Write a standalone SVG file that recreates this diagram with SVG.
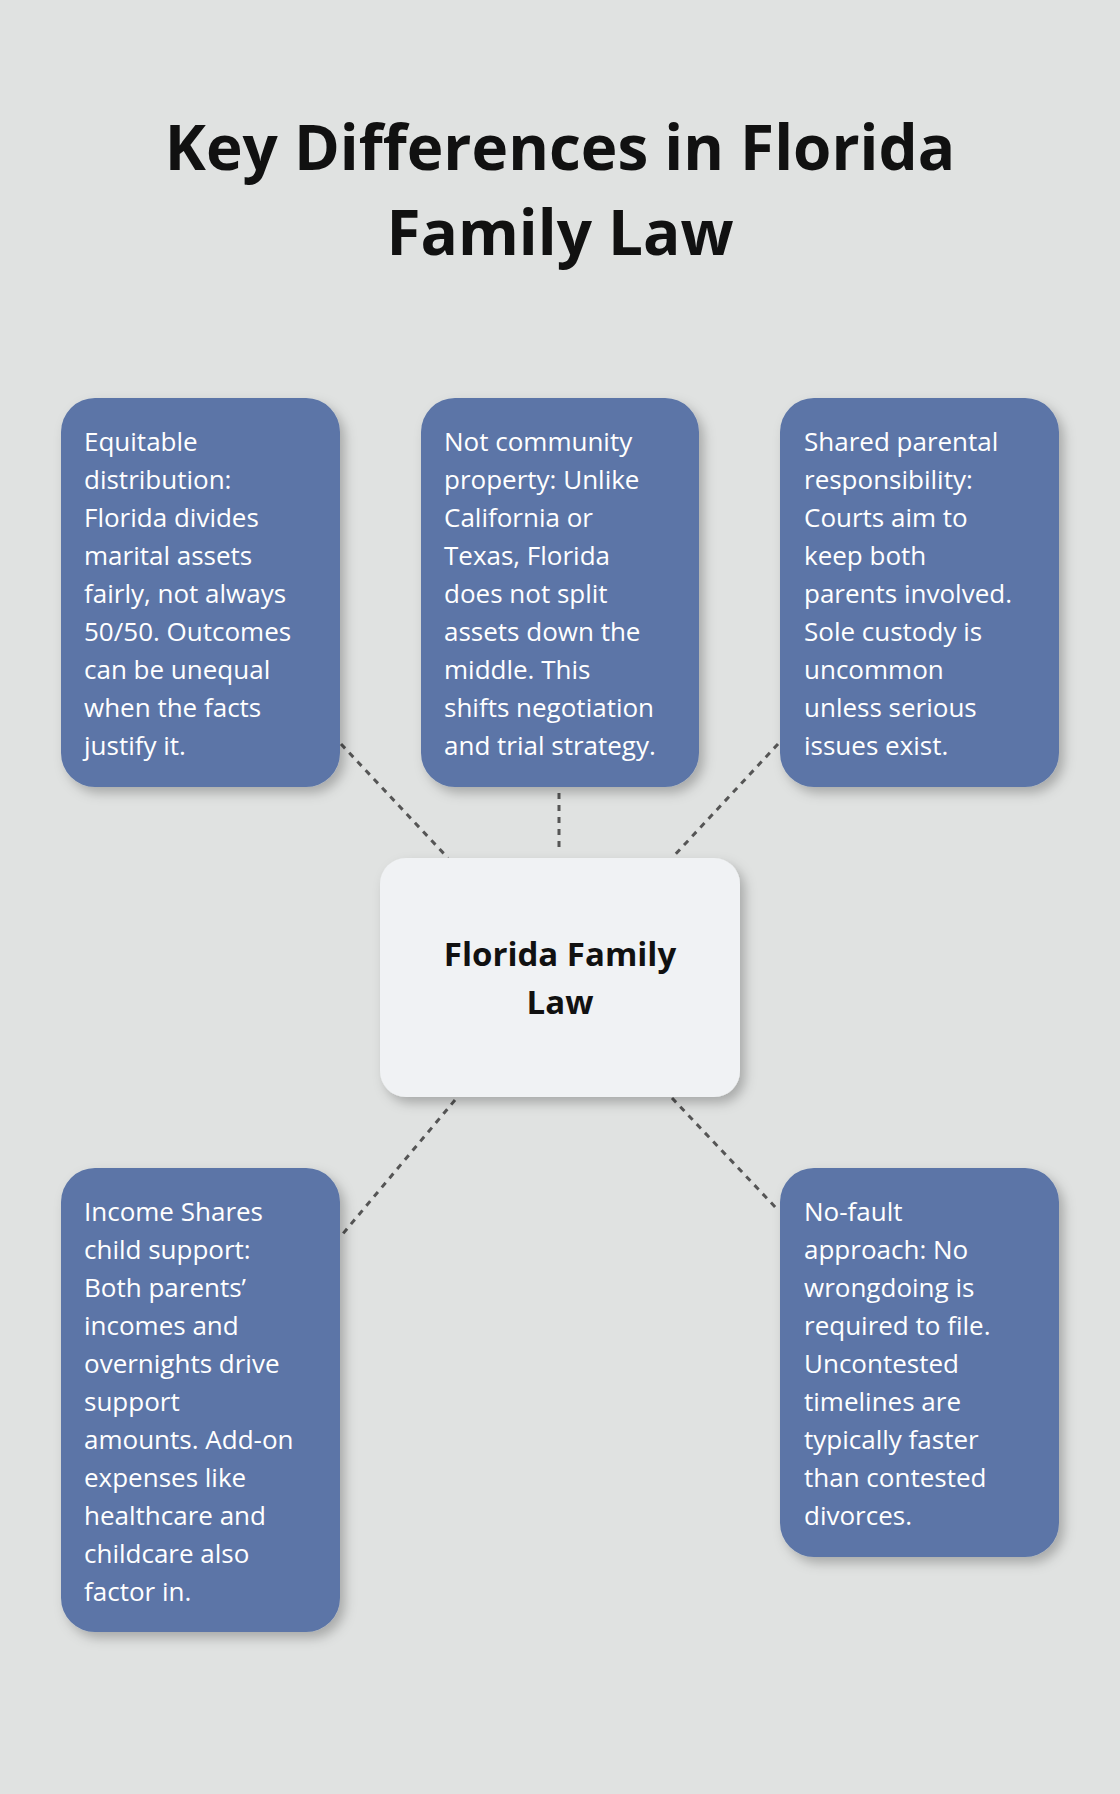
<svg xmlns="http://www.w3.org/2000/svg" width="1120" height="1794" viewBox="0 0 1120 1794">
<style>
.t{font-family:"Open Sans","Noto Sans",sans-serif;font-size:26px;fill:#fff}
.h{font-family:"Open Sans","Noto Sans",sans-serif;font-weight:bold;fill:#111;text-anchor:middle}
.b{fill:#5b75a7;filter:url(#sh)}
.c{stroke:#555;stroke-width:3;stroke-dasharray:6 6;fill:none}
</style>
<defs><filter id="sh" x="-20%" y="-20%" width="140%" height="140%"><feDropShadow dx="5" dy="6" stdDeviation="6" flood-color="#000" flood-opacity="0.25"/></filter></defs>
<rect width="1120" height="1794" fill="#e0e2e1"/>
<text class="h" font-size="62" x="560" y="170">Key Differences in Florida</text>
<text class="h" font-size="62" x="560" y="255">Family Law</text>
<g id="connectors">
<line class="c" x1="341" y1="744" x2="448" y2="858"/>
<line class="c" x1="559" y1="793" x2="559" y2="852"/>
<line class="c" x1="778" y1="744" x2="672" y2="858"/>
<line class="c" x1="455" y1="1100" x2="341" y2="1236"/>
<line class="c" x1="672" y1="1098" x2="778" y2="1210"/>
</g>
<g id="n1"><rect class="b" x="61" y="398" width="279" height="389" rx="34"/>
<text class="t" x="84" y="451"><tspan x="84">Equitable</tspan><tspan x="84" dy="38">distribution:</tspan><tspan x="84" dy="38">Florida divides</tspan><tspan x="84" dy="38">marital assets</tspan><tspan x="84" dy="38">fairly, not always</tspan><tspan x="84" dy="38">50/50. Outcomes</tspan><tspan x="84" dy="38">can be unequal</tspan><tspan x="84" dy="38">when the facts</tspan><tspan x="84" dy="38">justify it.</tspan></text></g>
<g id="n2"><rect class="b" x="421" y="398" width="278" height="389" rx="34"/>
<text class="t" x="444" y="451"><tspan x="444">Not community</tspan><tspan x="444" dy="38">property: Unlike</tspan><tspan x="444" dy="38">California or</tspan><tspan x="444" dy="38">Texas, Florida</tspan><tspan x="444" dy="38">does not split</tspan><tspan x="444" dy="38">assets down the</tspan><tspan x="444" dy="38">middle. This</tspan><tspan x="444" dy="38">shifts negotiation</tspan><tspan x="444" dy="38">and trial strategy.</tspan></text></g>
<g id="n3"><rect class="b" x="780" y="398" width="279" height="389" rx="34"/>
<text class="t" x="804" y="451"><tspan x="804">Shared parental</tspan><tspan x="804" dy="38">responsibility:</tspan><tspan x="804" dy="38">Courts aim to</tspan><tspan x="804" dy="38">keep both</tspan><tspan x="804" dy="38">parents involved.</tspan><tspan x="804" dy="38">Sole custody is</tspan><tspan x="804" dy="38">uncommon</tspan><tspan x="804" dy="38">unless serious</tspan><tspan x="804" dy="38">issues exist.</tspan></text></g>
<g id="center"><rect x="380" y="858" width="360" height="239" rx="26" fill="#f0f2f4" filter="url(#sh)"/>
<text class="h" font-size="33" x="560" y="966">Florida Family</text>
<text class="h" font-size="33" x="560" y="1014">Law</text></g>
<g id="n4"><rect class="b" x="61" y="1168" width="279" height="464" rx="34"/>
<text class="t" x="84" y="1221"><tspan x="84">Income Shares</tspan><tspan x="84" dy="38">child support:</tspan><tspan x="84" dy="38">Both parents’</tspan><tspan x="84" dy="38">incomes and</tspan><tspan x="84" dy="38">overnights drive</tspan><tspan x="84" dy="38">support</tspan><tspan x="84" dy="38">amounts. Add-on</tspan><tspan x="84" dy="38">expenses like</tspan><tspan x="84" dy="38">healthcare and</tspan><tspan x="84" dy="38">childcare also</tspan><tspan x="84" dy="38">factor in.</tspan></text></g>
<g id="n5"><rect class="b" x="780" y="1168" width="279" height="389" rx="34"/>
<text class="t" x="804" y="1221"><tspan x="804">No-fault</tspan><tspan x="804" dy="38">approach: No</tspan><tspan x="804" dy="38">wrongdoing is</tspan><tspan x="804" dy="38">required to file.</tspan><tspan x="804" dy="38">Uncontested</tspan><tspan x="804" dy="38">timelines are</tspan><tspan x="804" dy="38">typically faster</tspan><tspan x="804" dy="38">than contested</tspan><tspan x="804" dy="38">divorces.</tspan></text></g>
</svg>
